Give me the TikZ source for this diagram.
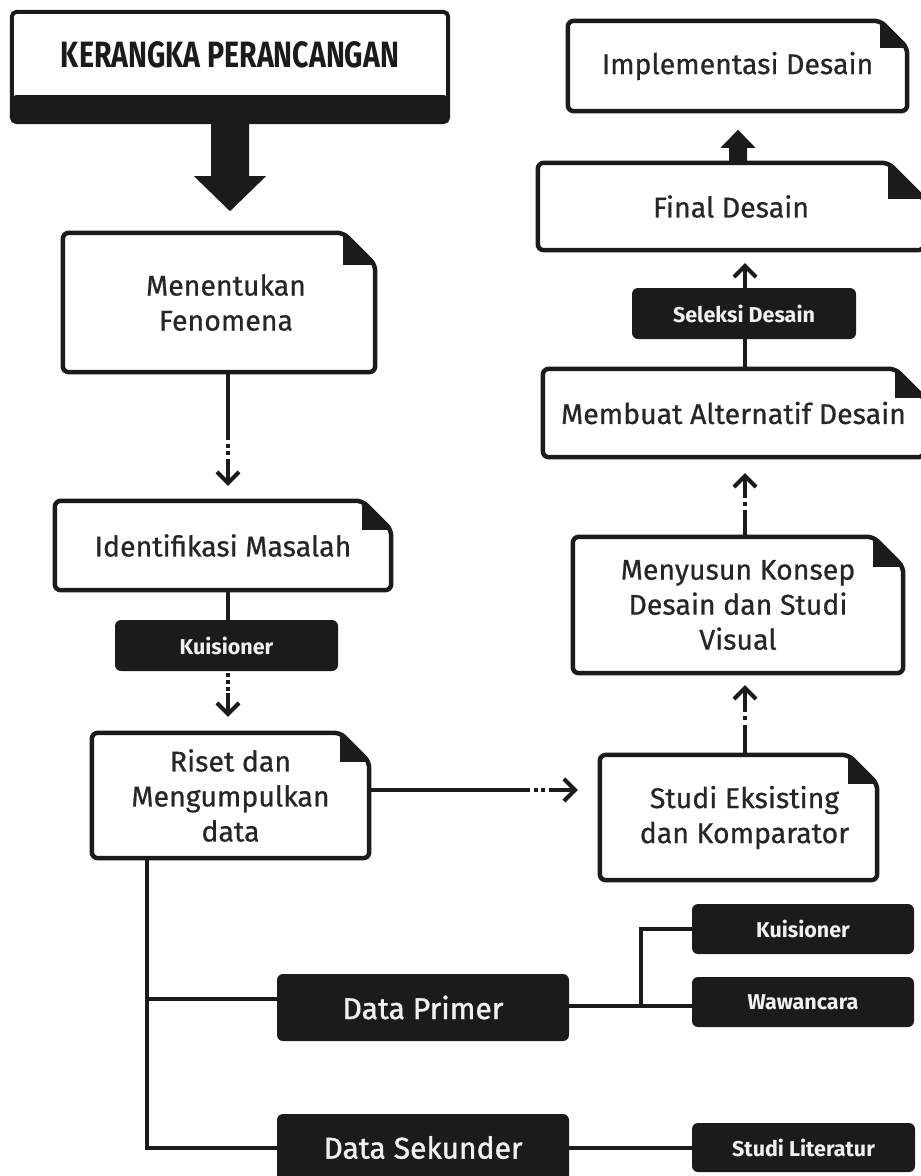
\documentclass[tikz,border=0pt]{standalone}
\usepackage{fontspec}
\usepackage{graphicx}
\setmainfont{Fira Sans}
\newfontfamily\medfont[FakeBold=1.3]{Fira Sans}
\newfontfamily\docfont[FakeBold=0.6]{Fira Sans}
\usetikzlibrary{calc,arrows.meta}
\definecolor{ink}{HTML}{1C1B1B}
\definecolor{txt}{HTML}{262626}
\definecolor{wtxt}{HTML}{F0F0F0}
\tikzset{
  boxline/.style={draw=ink,line width=4.5pt,rounded corners=6pt,line join=round},
  docnode/.style={inner sep=0pt,text=txt,align=center,font=\docfont\fontsize{28.5}{35}\selectfont},
  darknode/.style={inner sep=0pt,fill=ink,rounded corners=6pt,text=wtxt,align=center,font=\bfseries\fontsize{21.5}{24}\selectfont},
  bignode/.style={darknode,font=\medfont\fontsize{30}{32}\selectfont},
  conline/.style={draw=ink,line width=4pt},
  dotseg/.style={draw=ink,line width=4pt,dash pattern=on 4pt off 3pt},
  arrline/.style={draw=ink,line width=4pt,-{Straight Barb[length=11pt,width=22pt]}},
}
\newcommand\docbox[2][29]{%
  \fill[ink] ($(#2.north east)+(-#1,0)$) -- ($(#2.north east)+(0,#1)$) -- ($(#2.north east)+(-#1,#1)$) -- cycle;
  \draw[boxline] ($(#2.north east)+(-#1,0)$) -- (#2.north west) -- (#2.south west) -- (#2.south east) -- ($(#2.north east)+(0,#1)$) -- cycle;
}
\begin{document}
\begin{tikzpicture}[x=1pt,y=-1pt]
\useasboundingbox (0,0) rectangle (921,1176);
\fill[white] (0,0) rectangle (921,1176);
\clip (0,0) rectangle (921,1176);

% title
\node[inner sep=0pt,minimum width=436pt,minimum height=86pt,text=ink] (title) at (230,55)
  {\resizebox{338pt}{26pt}{\bfseries KERANGKA PERANCANGAN}};
\fill[ink,rounded corners=4pt] ($(title.south west)+(0,-3)$) rectangle ($(title.south east)+(0,24)$);
\draw[draw=ink,line width=4pt,rounded corners=5pt] (title.north west) rectangle ($(title.south east)+(0,24)$);

% document boxes
\node[docnode,minimum width=312pt,minimum height=139pt] (men) at (219,302.5) {\hspace*{14pt}Menentukan\\\hspace*{14pt}Fenomena};
\node[docnode,minimum width=336pt,minimum height=89pt] (ide) at (223,545.5) {Identifikasi Masalah};
\node[docnode,minimum width=277pt,minimum height=125pt] (ris) at (230.5,795.5) {Riset dan\\Mengumpulkan\\data};
\node[docnode,minimum width=277pt,minimum height=125pt] (stu) at (738.5,817.5) {\hspace*{12pt}Studi Eksisting\\\hspace*{12pt}dan Komparator};
\node[docnode,minimum width=330pt,minimum height=136pt] (mny) at (738,605) {Menyusun Konsep\\Desain dan Studi\\Visual};
\node[docnode,minimum width=381pt,minimum height=88pt] (mb) at (733.5,413) {Membuat Alternatif Desain};
\node[docnode,minimum width=386pt,minimum height=87pt] (fin) at (731,206.5) {Final Desain};
\node[docnode,minimum width=339pt,minimum height=90pt] (imp) at (737.5,66) {Implementasi Desain};
\docbox[32]{men}
\docbox{ide}
\docbox{ris}
\docbox{stu}
\docbox[30]{mny}
\docbox{mb}
\docbox[36]{fin}
\docbox[27]{imp}

% dark label boxes
\node[darknode,minimum width=223pt,minimum height=51pt] (kuL) at (226.5,645.5) {Kuisioner};
\node[darknode,minimum width=224pt,minimum height=51pt] (sel) at (744,313.5) {Seleksi Desain};
\node[bignode,minimum width=292pt,minimum height=67pt] (dpr) at (423,1007.5) {Data Primer};
\node[bignode,minimum width=292pt,minimum height=67pt] (dsk) at (423,1147.5) {Data Sekunder};
\node[darknode,minimum width=222pt,minimum height=50pt] (kuR) at (803,929) {Kuisioner};
\node[darknode,minimum width=222pt,minimum height=50pt] (waw) at (803,1002) {Wawancara};
\node[darknode,minimum width=223pt,minimum height=49pt] (lit) at (803.5,1147.5) {Studi Literatur};

% guide coordinates
\coordinate (lx) at (228,0);
\coordinate (lx2) at (745,0);
\coordinate (lx3) at (147,0);
\coordinate (lx4) at (641,0);
\coordinate (ly) at (0,790);
\coordinate (ly2) at (0,999);
\coordinate (ly3) at (0,1006);

% big arrow title -> men
\fill[ink] ($(title.south)+(-19,10)$) -- ($(title.south)+(-19,78)$) -- ($(title.south)+(-36,78)$)
  -- ($(title.south)+(0,113)$) -- ($(title.south)+(36,78)$) -- ($(title.south)+(19,78)$)
  -- ($(title.south)+(19,10)$) -- cycle;

% men -> ide
\draw[conline] (men.south -| lx) -- ($(ide.north -| lx)+(0,-61)$);
\draw[dotseg] ($(ide.north -| lx)+(0,-57)$) -- ($(ide.north -| lx)+(0,-44)$);
\draw[arrline] ($(ide.north -| lx)+(0,-42)$) -- ($(ide.north -| lx)+(0,-15)$);

% ide -> kuisioner
\draw[conline] (ide.south -| lx) -- (kuL.north -| lx);

% kuisioner -> riset
\draw[dotseg] ($(ris.north -| lx)+(0,-60)$) -- ($(ris.north -| lx)+(0,-42)$);
\draw[arrline] ($(ris.north -| lx)+(0,-40)$) -- ($(ris.north -| lx)+(0,-16)$);

% riset -> studi
\draw[conline] (ris.east |- ly) -- ($(stu.west |- ly)+(-70,0)$);
\draw[dotseg] ($(stu.west |- ly)+(-66,0)$) -- ($(stu.west |- ly)+(-53,0)$);
\draw[arrline] ($(stu.west |- ly)+(-51,0)$) -- ($(stu.west |- ly)+(-22,0)$);

% studi -> menyusun
\draw[conline] (stu.north -| lx2) -- ($(mny.south -| lx2)+(0,52)$);
\draw[dotseg] ($(mny.south -| lx2)+(0,47)$) -- ($(mny.south -| lx2)+(0,43)$);
\draw[arrline] ($(mny.south -| lx2)+(0,39)$) -- ($(mny.south -| lx2)+(0,12)$);

% menyusun -> membuat
\draw[conline] (mny.north -| lx2) -- ($(mb.south -| lx2)+(0,53)$);
\draw[dotseg] ($(mb.south -| lx2)+(0,49)$) -- ($(mb.south -| lx2)+(0,45)$);
\draw[arrline] ($(mb.south -| lx2)+(0,41)$) -- ($(mb.south -| lx2)+(0,16)$);

% membuat -> seleksi -> final
\draw[conline] (mb.north -| lx2) -- (sel.south -| lx2);
\draw[arrline] (sel.north -| lx2) -- ($(fin.south -| lx2)+(0,13)$);

% final -> implementasi (thick arrow)
\fill[ink] ($(fin.north)+(-2,2)$) -- ($(fin.north)+(-2,-15)$) -- ($(fin.north)+(-10.5,-15)$)
  -- ($(fin.north)+(7,-33)$) -- ($(fin.north)+(24.5,-15)$) -- ($(fin.north)+(16,-15)$)
  -- ($(fin.north)+(16,2)$) -- cycle;

% riset -> data primer / data sekunder
\draw[conline,line join=miter] (ris.south -| lx3) |- (dsk.west);
\draw[conline] (lx3 |- ly2) -- (dpr.west |- ly2);

% data primer -> kuisioner / wawancara
\draw[conline] (dpr.east |- ly3) -- (waw.west |- ly3);
\draw[conline,line join=miter] (lx4 |- ly3) |- (kuR.west);

% data sekunder -> studi literatur
\draw[conline] (dsk.east) -- (lit.west);
\end{tikzpicture}
\end{document}
